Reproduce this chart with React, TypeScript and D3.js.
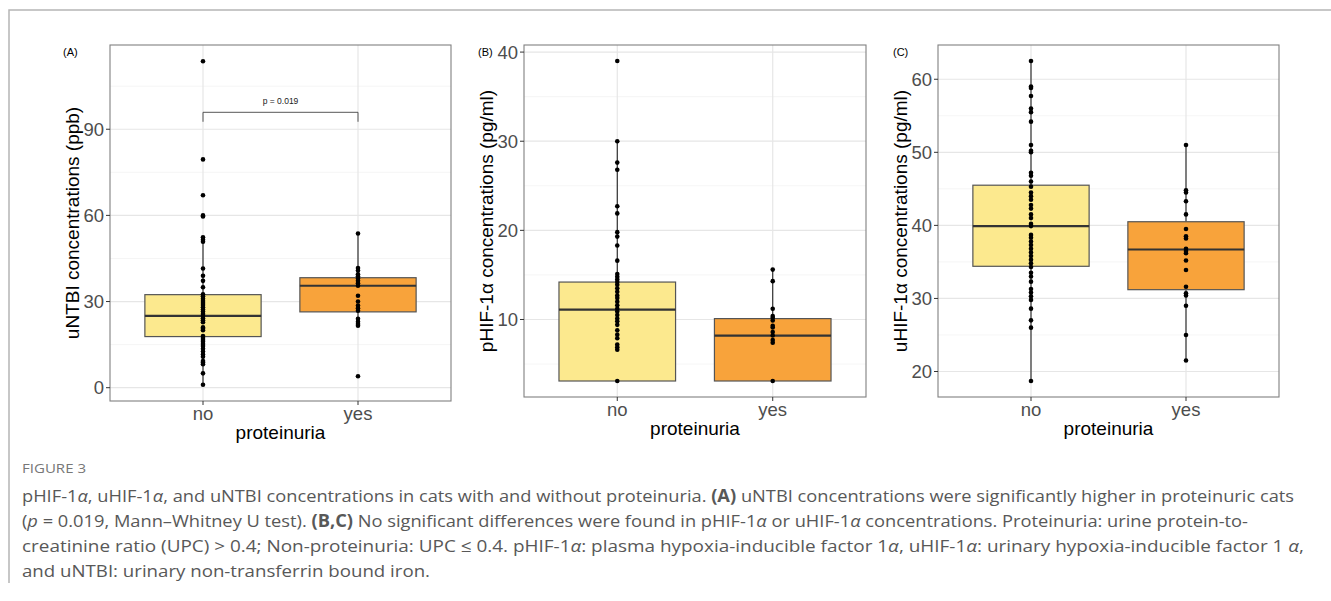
import React from "react";
import * as d3 from "d3";

const width = 1331;
const height = 601;

const categories = ["no", "yes"];

// (A) uNTBI (ppb)
const untbiNo = [
  113.7, 79.5, 67, 60, 59.6, 52.4, 51.5, 50.8, 41.5, 39, 37.2, 35, 32.5, 31.8,
  31, 30.2, 29.5, 28.8, 28, 27.2, 26.5, 25.7, 25, 24.2, 23.5, 22.8, 21, 20.5,
  20, 18, 17.3, 16.6, 16, 15.2, 14.5, 13.6, 12.6, 11.6, 10.8, 9.3, 8.8, 8.2, 5,
  1,
];
const untbiYes = [
  53.7, 41.7, 40.8, 39.5, 38.8, 38, 37.2, 36.4, 35.5, 32, 30, 28.6, 27.7, 26.8,
  24, 23, 22.2, 21.6, 4,
];
// [low whisker, q1, median, q3, high whisker]
const untbiBox = [
  [1, 17.8, 25.0, 32.4, 52.4],
  [21.6, 26.4, 35.5, 38.3, 53.7],
];
const untbiTicks = [0, 30, 60, 90];
const untbiMinor = [15, 45, 75, 105];

// (B) pHIF-1a (pg/ml)
const phifNo = [
  39, 30, 27.6, 26.8, 22.7, 21.9, 19.8, 19.3, 18.3, 16.6, 15.1, 14.8, 14.5,
  14.2, 13.9, 13.5, 13.1, 12.7, 12.4, 12.0, 11.6, 11.2, 10.9, 10.5, 10.1, 9.8,
  9.4, 8.8, 8.3, 7.9, 7.2, 6.9, 6.6, 3.1,
];
const phifYes = [15.6, 14.3, 11.2, 10.4, 10.2, 9.9, 9.3, 9.1, 8.6, 8.2, 7.7, 7.4, 3.1];
const phifBox = [
  [3.1, 3.1, 11.1, 14.2, 30.0],
  [3.1, 3.1, 8.2, 10.1, 15.6],
];
const phifTicks = [10, 20, 30, 40];
const phifMinor = [5, 15, 25, 35];

// (C) uHIF-1a (pg/ml)
const uhifNo = [
  62.5, 59, 58.8, 57.7, 56, 55.5, 54.2, 51, 50.2, 50, 47.2, 46.8, 46, 45.3,
  44.5, 44, 43.5, 42.8, 42.3, 41.5, 41, 40.2, 39.9, 38.7, 38.3, 37.8, 37.3,
  36.8, 36.3, 35.8, 35.3, 34.8, 34.3, 33.5, 33, 32.3, 31.3, 30.8, 30.3, 29.8,
  28.6, 27, 26, 18.7,
];
const uhifYes = [
  51, 44.8, 44.5, 43.3, 41.5, 39.5, 38.5, 38.2, 36.8, 36.5, 36.2, 35.2, 33.9,
  31.6, 30.7, 30.4, 29, 25, 21.5,
];
const uhifBox = [
  [18.7, 34.4, 39.9, 45.5, 62.5],
  [21.5, 31.2, 36.7, 40.5, 51.0],
];
const uhifTicks = [20, 30, 40, 50, 60];
const uhifMinor = [25, 35, 45, 55];

const fills = ["#fce98e", "#f8a33b"];

const tickFont = "'Liberation Sans', Arial, sans-serif";

const Panel = ({ label, frame, series, boxes, ticks, minor, yTitle, bracket }) => {
  const { left, right, top, bottom } = frame;
  const all = series.flat();
  const [lo, hi] = d3.extent(all);
  const pad = (hi - lo) * 0.05;
  const yScale = d3.scaleLinear().domain([lo - pad, hi + pad]).range([bottom, top]);
  const xScale = d3.scalePoint().domain(categories).range([left, right]).padding(0.6);
  const boxW = xScale.step() * 0.75;
  const cx = (left + right) / 2;

  return (
    <g>
      <rect x={left} y={top} width={right - left} height={bottom - top} fill="#fff" />
      {minor.map((t) => (
        <line key={"m" + t} x1={left} x2={right} y1={yScale(t)} y2={yScale(t)} stroke="#f2f2f2" strokeWidth={0.8} />
      ))}
      {ticks.map((t) => (
        <line key={"g" + t} x1={left} x2={right} y1={yScale(t)} y2={yScale(t)} stroke="#e6e6e6" strokeWidth={1.2} />
      ))}
      {categories.map((c) => (
        <line key={"v" + c} x1={xScale(c)} x2={xScale(c)} y1={top} y2={bottom} stroke="#e6e6e6" strokeWidth={1.2} />
      ))}
      {categories.map((c, i) => {
        const [wl, q1, med, q3, wh] = boxes[i];
        const x = xScale(c);
        return (
          <g key={"b" + c}>
            <line x1={x} x2={x} y1={yScale(wh)} y2={yScale(q3)} stroke="#222" strokeWidth={1.1} />
            <line x1={x} x2={x} y1={yScale(q1)} y2={yScale(wl)} stroke="#222" strokeWidth={1.1} />
            <rect
              x={x - boxW / 2}
              y={yScale(q3)}
              width={boxW}
              height={yScale(q1) - yScale(q3)}
              fill={fills[i]}
              stroke="#555"
              strokeWidth={1.2}
            />
            <line x1={x - boxW / 2} x2={x + boxW / 2} y1={yScale(med)} y2={yScale(med)} stroke="#333" strokeWidth={2.2} />
          </g>
        );
      })}
      {categories.map((c, i) =>
        series[i].map((v, j) => <circle key={c + j} cx={xScale(c)} cy={yScale(v)} r={2.3} fill="#000" />)
      )}
      {bracket && (
        <g>
          <path
            d={`M${xScale("no")},${yScale(bracket.y - 3.3)}V${yScale(bracket.y)}H${xScale("yes")}V${yScale(bracket.y - 3.3)}`}
            fill="none"
            stroke="#444"
            strokeWidth={0.9}
          />
          <text x={cx} y={yScale(bracket.y) - 8} textAnchor="middle" fontSize={8.5} fontFamily={tickFont} fill="#222">
            {bracket.text}
          </text>
        </g>
      )}
      <rect x={left} y={top} width={right - left} height={bottom - top} fill="none" stroke="#808080" strokeWidth={1.1} />
      {ticks.map((t) => (
        <g key={"t" + t}>
          <line x1={left - 4} x2={left} y1={yScale(t)} y2={yScale(t)} stroke="#333" strokeWidth={1} />
          <text x={left - 6} y={yScale(t)} dy="0.36em" textAnchor="end" fontSize={18.5} fontFamily={tickFont} fill="#4d4d4d">
            {t}
          </text>
        </g>
      ))}
      {categories.map((c) => (
        <g key={"xt" + c}>
          <line x1={xScale(c)} x2={xScale(c)} y1={bottom} y2={bottom + 4} stroke="#333" strokeWidth={1} />
          <text x={xScale(c)} y={bottom + 19} textAnchor="middle" fontSize={18.5} fontFamily={tickFont} fill="#4d4d4d">
            {c}
          </text>
        </g>
      ))}
      <text x={cx} y={bottom + 38} textAnchor="middle" fontSize={19} fontFamily={tickFont} fill="#000">
        proteinuria
      </text>
      <text
        transform={`translate(${left - 31},${(top + bottom) / 2}) rotate(-90)`}
        textAnchor="middle"
        fontSize={19}
        fontFamily={tickFont}
        fill="#000"
      >
        {yTitle}
      </text>
      <text x={label.x} y={56} fontSize={11} fontFamily={tickFont} fill="#000">
        {label.text}
      </text>
    </g>
  );
};

const capFont = "'Liberation Sans Narrow', 'Open Sans', sans-serif";

export default function App() {
  return (
    <svg width={width} height={height} style={{ position: "absolute", left: 0, top: 0, background: "#fff" }}>
      <path d={`M${width},10H9V583`} fill="none" stroke="#b5b5b5" strokeWidth={1.5} />
      <Panel
        label={{ text: "(A)", x: 63 }}
        frame={{ left: 110, right: 451, top: 45, bottom: 401 }}
        series={[untbiNo, untbiYes]}
        boxes={untbiBox}
        ticks={untbiTicks}
        minor={untbiMinor}
        yTitle="uNTBI concentrations (ppb)"
        bracket={{ y: 95.9, text: "p = 0.019" }}
      />
      <Panel
        label={{ text: "(B)", x: 478 }}
        frame={{ left: 524, right: 866, top: 45, bottom: 397 }}
        series={[phifNo, phifYes]}
        boxes={phifBox}
        ticks={phifTicks}
        minor={phifMinor}
        yTitle="pHIF-1α concentrations (pg/ml)"
      />
      <Panel
        label={{ text: "(C)", x: 893 }}
        frame={{ left: 938, right: 1279, top: 45, bottom: 397 }}
        series={[uhifNo, uhifYes]}
        boxes={uhifBox}
        ticks={uhifTicks}
        minor={uhifMinor}
        yTitle="uHIF-1α concentrations (pg/ml)"
      />
      <text x={22} y={473} fontSize={13} fontFamily={capFont} fill="#777" textLength={64} lengthAdjust="spacingAndGlyphs">
        FIGURE 3
      </text>
      <g fontFamily={capFont} fontSize={17} fill="#585858">
        <text x={22} y={502} textLength={1272} lengthAdjust="spacingAndGlyphs">
          pHIF-1<tspan fontStyle="italic">α</tspan>, uHIF-1<tspan fontStyle="italic">α</tspan>, and uNTBI concentrations in
          cats with and without proteinuria. <tspan fontWeight="bold">(A)</tspan> uNTBI concentrations were significantly
          higher in proteinuric cats
        </text>
        <text x={22} y={527} textLength={1226} lengthAdjust="spacingAndGlyphs">
          (<tspan fontStyle="italic">p</tspan> = 0.019, Mann–Whitney U test). <tspan fontWeight="bold">(B,C)</tspan> No
          significant differences were found in pHIF-1<tspan fontStyle="italic">α</tspan> or uHIF-1
          <tspan fontStyle="italic">α</tspan> concentrations. Proteinuria: urine protein-to-
        </text>
        <text x={22} y={552} textLength={1282} lengthAdjust="spacingAndGlyphs">
          creatinine ratio (UPC) &gt; 0.4; Non-proteinuria: UPC ≤ 0.4. pHIF-1<tspan fontStyle="italic">α</tspan>: plasma
          hypoxia-inducible factor 1<tspan fontStyle="italic">α</tspan>, uHIF-1<tspan fontStyle="italic">α</tspan>: urinary
          hypoxia-inducible factor 1 <tspan fontStyle="italic">α</tspan>,
        </text>
        <text x={22} y={577} textLength={408} lengthAdjust="spacingAndGlyphs">
          and uNTBI: urinary non-transferrin bound iron.
        </text>
      </g>
    </svg>
  );
}
